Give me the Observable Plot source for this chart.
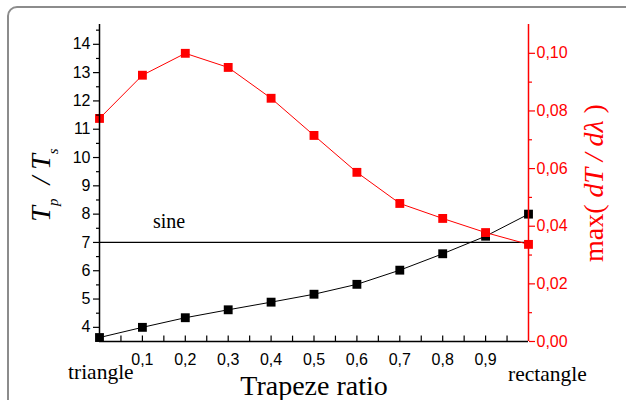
<!DOCTYPE html>
<html><head><meta charset="utf-8">
<script src="https://cdn.jsdelivr.net/npm/d3@7"></script>
<script src="https://cdn.jsdelivr.net/npm/@observablehq/plot@0.6"></script>
<style>
body{margin:0;background:#fff;}
#wrap{position:relative;width:626px;height:400px;overflow:hidden;}
#box{position:absolute;left:7px;top:6px;width:700px;height:500px;border:2px solid #8c8c8c;border-radius:10px;}
#chart{position:absolute;left:0;top:0;}
</style></head><body>
<div id="wrap"><div id="box"></div><div id="chart"></div></div>
<script>
// ---- data ----
const ratio    = [0, 0.1, 0.2, 0.3, 0.4, 0.5, 0.6, 0.7, 0.8, 0.9, 1.0];
const tpRatio  = [3.64, 4.00, 4.34, 4.62, 4.89, 5.17, 5.52, 6.02, 6.60, 7.22, 8.00];
const maxSlope = [0.0774, 0.0924, 0.1000, 0.0951, 0.0844, 0.0715, 0.0587, 0.0479, 0.0427, 0.0378, 0.0337];
const sineLevel = 7;
const xTicks = [0.1, 0.2, 0.3, 0.4, 0.5, 0.6, 0.7, 0.8, 0.9];
const xMinorTicks = [0.05, 0.1, 0.15, 0.2, 0.25, 0.3, 0.35, 0.4, 0.45, 0.5, 0.55, 0.6, 0.65, 0.7, 0.75, 0.8, 0.85, 0.9, 0.95];
const leftTicks = [4, 5, 6, 7, 8, 9, 10, 11, 12, 13, 14];
const leftMinor = [4.5, 5.5, 6.5, 7.5, 8.5, 9.5, 10.5, 11.5, 12.5, 13.5, 14.5];
const rightTicks = [0, 0.02, 0.04, 0.06, 0.08, 0.10];
const rightMinor = [0.01, 0.03, 0.05, 0.07, 0.09];

const yDomain = [3.5, 14.7];
const rDomain = [0, 0.11];
const toLeft = d3.scaleLinear(rDomain, yDomain);
const comma = (s) => s.replace(".", ",");

const black = ratio.map((x, i) => ({x, y: tpRatio[i]}));
const red = ratio.map((x, i) => ({x, y: toLeft(maxSlope[i])}));

const plot = Plot.plot({
  width: 626, height: 400,
  marginLeft: 99, marginRight: 98, marginTop: 24, marginBottom: 59,
  x: {domain: [0, 1], label: null},
  y: {domain: yDomain, label: null},
  style: {fontFamily: "'Liberation Sans', Arial, sans-serif", fontSize: "16px", background: "transparent", overflow: "visible"},
  marks: [
    Plot.ruleY([sineLevel], {stroke: "black", strokeWidth: 1.3}),
    Plot.line(black, {x: "x", y: "y", stroke: "black", strokeWidth: 1}),
    Plot.dot(black, {x: "x", y: "y", symbol: "square", fill: "black", r: 5}),
    Plot.line(red, {x: "x", y: "y", stroke: "red", strokeWidth: 1}),
    Plot.dot(red, {x: "x", y: "y", symbol: "square", fill: "red", r: 5}),
    // axis lines
    Plot.ruleX([0], {stroke: "black", strokeWidth: 1.5}),
    Plot.ruleY([yDomain[0]], {stroke: "black", strokeWidth: 1.5}),
    Plot.ruleX([1], {stroke: "red", strokeWidth: 1.5}),
    // bottom inward ticks
    Plot.ruleX(xMinorTicks, {y1: yDomain[0], y2: yDomain[0] + 0.19, stroke: "black", strokeWidth: 1.2}),
    Plot.axisX({ticks: xTicks, tickSize: 0, tickPadding: 12, tickFormat: d => comma(d.toFixed(1)), fontSize: 16, label: null}),
    // left axis
    Plot.axisY({ticks: leftTicks, tickSize: 6, tickPadding: 3, tickFormat: d => String(d), fontSize: 16, label: null, strokeWidth: 1.2}),
    Plot.axisY({ticks: leftMinor, tickSize: 3, tickFormat: () => "", label: null, strokeWidth: 1.2}),
    // right axis (red)
    Plot.axisY({anchor: "right", ticks: rightTicks.map(v => toLeft(v)), tickSize: 6, tickPadding: 2,
      tickFormat: d => comma(toLeft.invert(d).toFixed(2)), color: "red", fontSize: 16, label: null, strokeWidth: 1.2}),
    Plot.axisY({anchor: "right", ticks: rightMinor.map(v => toLeft(v)), tickSize: 3, tickFormat: () => "", color: "red", label: null, strokeWidth: 1.2})
  ]
});
document.getElementById("chart").append(plot);

// titles and annotations
const svg = d3.select(plot);
const serif = "'Liberation Serif', 'Times New Roman', serif";

// left y title: T_p / T_s
const lt = svg.append("text")
  .attr("transform", "translate(50,185) rotate(-90)")
  .attr("text-anchor", "middle")
  .attr("font-family", serif).attr("font-size", 28).attr("font-style", "italic").attr("fill", "black");
lt.append("tspan").text("T");
lt.append("tspan").attr("font-size", 15).attr("dy", 8).text("p");
lt.append("tspan").attr("dy", -8).text("  / T");
lt.append("tspan").attr("font-size", 15).attr("dy", 8).text("s");

// right y title: max( dT / dλ )
const rt = svg.append("text")
  .attr("transform", "translate(603,183) rotate(-90)")
  .attr("text-anchor", "middle")
  .attr("font-family", serif).attr("font-size", 28).attr("fill", "red");
rt.append("tspan").text("max( ");
rt.append("tspan").attr("font-style", "italic").text("dT / dλ");
rt.append("tspan").text(" )");

svg.append("text").attr("x", 314).attr("y", 395).attr("text-anchor", "middle")
  .attr("font-family", serif).attr("font-size", 28).attr("fill", "black").text("Trapeze ratio");
svg.append("text").attr("x", 68).attr("y", 379).attr("text-anchor", "start")
  .attr("font-family", serif).attr("font-size", 21.5).attr("fill", "black").text("triangle");
svg.append("text").attr("x", 508).attr("y", 381).attr("text-anchor", "start")
  .attr("font-family", serif).attr("font-size", 21.5).attr("fill", "black").text("rectangle");
svg.append("text").attr("x", 153).attr("y", 228).attr("text-anchor", "start")
  .attr("font-family", serif).attr("font-size", 20).attr("fill", "black").text("sine");
</script>
</body></html>
